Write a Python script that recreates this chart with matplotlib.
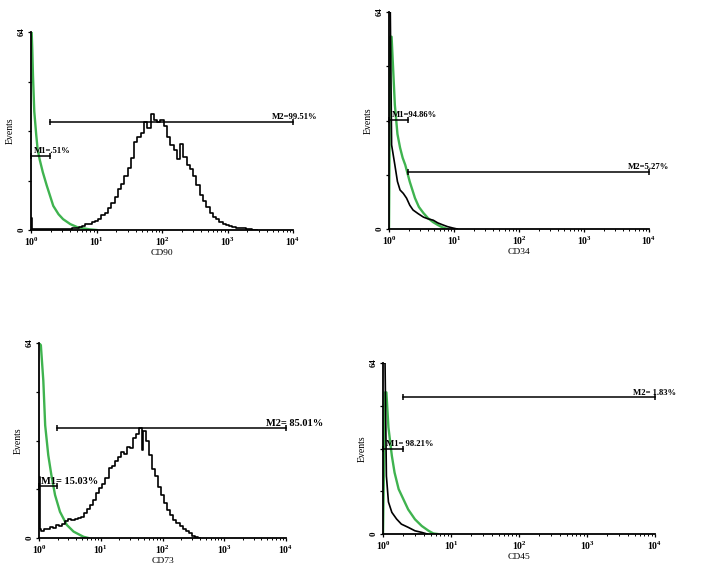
import numpy as np
import matplotlib
matplotlib.use('Agg')
import matplotlib.pyplot as plt

plt.rcParams['font.family'] = 'Liberation Serif'
plt.rcParams['font.weight'] = 'bold'
plt.rcParams['mathtext.fontset'] = 'custom'
plt.rcParams['mathtext.rm'] = 'Liberation Serif:bold'
plt.rcParams['mathtext.it'] = 'Liberation Serif:bold'
plt.rcParams['mathtext.bf'] = 'Liberation Serif:bold'

GREEN = '#3fb34f'

# --- values (x in decades, y in events) ---
# CD90
cd90_ctrl_x = [0.0, 0.01, 0.02, 0.03, 0.05, 0.08, 0.10, 0.13, 0.18, 0.24, 0.29, 0.34, 0.42, 0.49, 0.60, 0.72, 0.90, 1.0]
cd90_ctrl_y = [64, 64, 58, 50, 38.3, 30.7, 26.3, 23, 18.7, 14.4, 11.1, 7.8, 5.1, 3.5, 1.9, 0.8, 0.2, 0]
cd90_samp_x = [0.0, 0.01, 0.02, 0.1, 0.3, 0.5, 0.6, 0.65, 0.7, 0.75, 0.8, 0.85, 0.9, 0.95, 1.0, 1.05, 1.1,
               1.15, 1.2, 1.25, 1.3, 1.35, 1.4, 1.45, 1.5, 1.55, 1.6, 1.65, 1.7, 1.75, 1.8, 1.85, 1.9,
               1.95, 2.0, 2.05, 2.1, 2.15, 2.2, 2.25, 2.3, 2.35, 2.4, 2.45, 2.5, 2.55, 2.6, 2.65, 2.7,
               2.75, 2.8, 2.85, 2.9, 2.95, 3.0, 3.05, 3.1, 3.15, 3.2, 3.25, 3.3, 3.35, 3.4, 3.45]
cd90_samp_y = [4, 4, 0.3, 0.2, 0.3, 0.3, 0.4, 0.6, 0.5, 1.0, 1.3, 1.8, 1.9, 2.6, 2.9, 3.4, 5.0,
               5.6, 7.2, 8.6, 10.8, 13.2, 14.8, 17.5, 20.1, 23.4, 28.4, 30.2, 31.2, 34.9, 33.0, 37.6, 35.7,
               34.8, 35.5, 33.6, 30.2, 27.5, 26.0, 22.9, 27.8, 23.5, 20.9, 19.6, 17.6, 14.6, 11.4, 9.4, 7.4,
               5.4, 4.2, 3.4, 2.7, 2.0, 1.6, 1.3, 1.0, 0.8, 0.7, 0.5, 0.4, 0.3, 0.1, 0]
cd90_m1 = (0.0, 0.29, 24.0)
cd90_m2 = (0.29, 4.0, 35.0)
cd90_labels = ['M1=.51%', 'M2=99.51%']

# CD34
cd34_ctrl_x = [0.0, 0.02, 0.04, 0.09, 0.13, 0.17, 0.21, 0.25, 0.32, 0.4, 0.46, 0.53, 0.6, 0.68, 0.75, 0.82, 0.9]
cd34_ctrl_y = [0, 56.7, 56.7, 36.6, 28, 24, 21, 18.9, 13.9, 9.1, 6.5, 4.7, 3.2, 2, 1.2, 0.5, 0]
cd34_samp_x = [0.0, 0.02, 0.04, 0.09, 0.13, 0.17, 0.22, 0.27, 0.32, 0.37, 0.45, 0.53, 0.6, 0.68, 0.75, 0.83, 0.9, 0.98, 1.05]
cd34_samp_y = [64, 64, 24.8, 18.9, 14, 11.5, 10.5, 9.1, 7, 5.6, 4.5, 3.5, 3.0, 2.6, 1.8, 1.2, 0.7, 0.3, 0]
cd34_m1 = (0.0, 0.29, 32.2)
cd34_m2 = (0.29, 4.0, 16.8)
cd34_labels = ['M1=94.86%', 'M2=5.27%']

# CD73
cd73_ctrl_x = [0.0, 0.03, 0.07, 0.1, 0.15, 0.2, 0.26, 0.34, 0.45, 0.56, 0.72, 0.8]
cd73_ctrl_y = [64, 63.3, 51.6, 37, 27.2, 20.7, 14.1, 8.6, 4.3, 2.1, 0.4, 0]
cd73_samp_x = [0.0, 0.01, 0.02, 0.05, 0.1, 0.15, 0.2, 0.25, 0.3, 0.35, 0.4, 0.45, 0.5, 0.55, 0.6, 0.65,
               0.7, 0.75, 0.8, 0.85, 0.9, 0.95, 1.0, 1.05, 1.1, 1.15, 1.2, 1.25, 1.3, 1.35, 1.4, 1.45,
               1.5, 1.55, 1.6, 1.65, 1.68, 1.7, 1.75, 1.8, 1.85, 1.9, 1.95, 2.0, 2.05, 2.1, 2.15, 2.2,
               2.25, 2.3, 2.35, 2.4, 2.45, 2.5, 2.55, 2.6]
cd73_samp_y = [20, 20, 3, 2.4, 2.8, 3.0, 3.6, 3.2, 4.3, 3.8, 4.5, 5.6, 6.4, 5.8, 6.4, 6.6,
               7.0, 8.2, 9.4, 10.8, 12.6, 14.8, 16.4, 17.6, 19.8, 22.9, 23.6, 25.2, 26.6, 28.2, 27.6, 30.0,
               29.6, 32.7, 34.0, 36.0, 29, 35, 32.0, 27.2, 22.8, 20.2, 16.8, 14.2, 11.6, 9.2, 7.6, 6.0,
               4.9, 3.8, 3.0, 2.2, 1.5, 0.8, 0.3, 0]
cd73_m1 = (0.0, 0.29, 17.0)
cd73_m2 = (0.29, 4.0, 36.0)
cd73_labels = ['M1= 15.03%', 'M2= 85.01%']

# CD45
cd45_ctrl_x = [0.0, 0.03, 0.05, 0.08, 0.13, 0.17, 0.23, 0.3, 0.37, 0.47, 0.57, 0.67, 0.74, 0.8]
cd45_ctrl_y = [0, 53, 53, 39.9, 29.3, 23, 16.8, 13, 9.2, 5.5, 3, 1.2, 0.2, 0]
cd45_samp_x = [0.0, 0.03, 0.05, 0.08, 0.13, 0.2, 0.27, 0.37, 0.47, 0.57, 0.65]
cd45_samp_y = [64, 64, 21.7, 12, 8.1, 5.6, 3.7, 2.5, 1.2, 0.6, 0]
cd45_m1 = (0.0, 0.3, 32.0)
cd45_m2 = (0.3, 4.0, 51.2)
cd45_labels = ['M1= 98.21%', 'M2= 1.83%']

names = ['CD90', 'CD34', 'CD73', 'CD45']
decade_labels = ['$10^{0}$', '$10^{1}$', '$10^{2}$', '$10^{3}$', '$10^{4}$']

# axes boxes in pixels: left, top, right, bottom
W, H = 708, 574
boxes = [(31, 32, 293, 230), (389, 12, 649, 229), (39, 343, 286, 538), (383, 363, 655, 534)]
label_sizes = [6.2, 6.2, 7.5, 6.2]
# the two positive markers are drawn as channel steps, the others as lines
sample_styles = ['steps-mid', 'default', 'steps-mid', 'default']

data = [
    (cd90_ctrl_x, cd90_ctrl_y, cd90_samp_x, cd90_samp_y, cd90_m1, cd90_m2, cd90_labels),
    (cd34_ctrl_x, cd34_ctrl_y, cd34_samp_x, cd34_samp_y, cd34_m1, cd34_m2, cd34_labels),
    (cd73_ctrl_x, cd73_ctrl_y, cd73_samp_x, cd73_samp_y, cd73_m1, cd73_m2, cd73_labels),
    (cd45_ctrl_x, cd45_ctrl_y, cd45_samp_x, cd45_samp_y, cd45_m1, cd45_m2, cd45_labels),
]

fig = plt.figure(figsize=(W / 100, H / 100), dpi=100)

for name, (l, t, r, b), fs, ds, (cx, cy, sx, sy, m1, m2, labs) in zip(
        names, boxes, label_sizes, sample_styles, data):
    ax = fig.add_axes([l / W, (H - b) / H, (r - l) / W, (b - t) / H])

    # histograms (control in green, stained sample in black)
    ax.plot(10 ** np.array(cx), cy, color=GREEN, lw=1.7)
    ax.plot(10 ** np.array(sx), sy, color='black', lw=1.2, drawstyle=ds)

    # marker gates M1 / M2
    for (x0, x1, y), txt, xt in [(m1, labs[0], 0.04), (m2, labs[1], 3.68)]:
        ax.plot([10 ** x0, 10 ** x1], [y, y], color='black', lw=1.1,
                marker='|', ms=5, mew=1.1, clip_on=False)
        ax.annotate(txt, (10 ** xt, y), xytext=(0, 0.5), textcoords='offset points',
                    fontsize=fs, ha='left', va='bottom', annotation_clip=False)

    ax.set_xscale('log')
    ax.set_xlim(1, 1e4)
    ax.set_ylim(0, 64)
    ax.set_xticks([1, 10, 100, 1000, 10000])
    ax.set_xticklabels(decade_labels, fontsize=7)
    ax.set_yticks([0, 16, 32, 48, 64])
    ax.set_yticklabels(['0', '', '', '', '64'], fontsize=6.5, rotation=90, va='center')
    ax.tick_params(axis='both', which='major', length=2.5, width=0.9, pad=1.5)
    ax.tick_params(axis='x', which='minor', length=1.3, width=0.7)
    ax.set_xlabel(name, fontsize=6.8, labelpad=1)
    ax.set_ylabel('Events', fontsize=7, labelpad=2)
    for s in ['top', 'right']:
        ax.spines[s].set_visible(False)
    for s in ['left', 'bottom']:
        ax.spines[s].set_linewidth(1.3)

fig.savefig('out.png', dpi=100)
plt.close()
